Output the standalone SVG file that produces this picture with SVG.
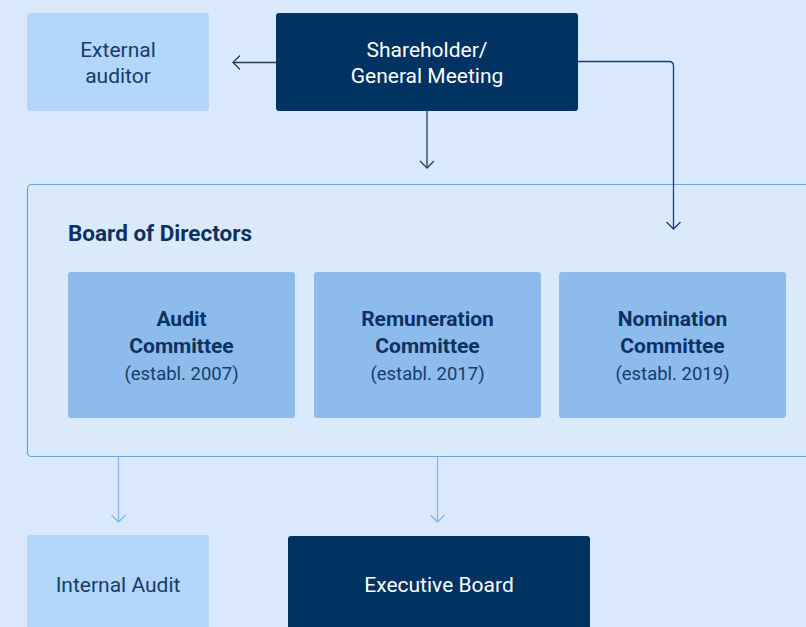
<svg xmlns="http://www.w3.org/2000/svg" width="806" height="627" viewBox="0 0 806 627">
<defs>
<style>
text{font-family:Roboto,"Liberation Sans",sans-serif;text-anchor:middle}
.lt{fill:#b3d6fa}
.dk{fill:#003262}
.cm{fill:#8dbbec}
.tl{font-size:21px;fill:#173c6a}
.tw{font-size:21px;fill:#ffffff}
.tb{font-size:21px;font-weight:bold;fill:#0b3262}
.ts{font-size:18.5px;fill:#173c6a}
.cd{fill:none;stroke:#1d3f6b;stroke-width:1.3}
.cl{fill:none;stroke:#84b6ec;stroke-width:1.3}
</style>
<marker id="ad" viewBox="0 0 16 16" refX="14" refY="8" markerWidth="16" markerHeight="16" markerUnits="userSpaceOnUse" orient="auto">
<path d="M7 1 L14 8 L7 15" fill="none" stroke="#1d3f6b" stroke-width="1.3"/>
</marker>
<marker id="al" viewBox="0 0 16 16" refX="14" refY="8" markerWidth="16" markerHeight="16" markerUnits="userSpaceOnUse" orient="auto">
<path d="M7 1 L14 8 L7 15" fill="none" stroke="#84b6ec" stroke-width="1.3"/>
</marker>
</defs>
<rect width="806" height="627" fill="#d9e9fb"/>
<g id="board">
<rect x="27.5" y="184.5" width="800" height="272" rx="4" fill="#dbeafb" stroke="#64a3e8" stroke-width="1.2"/>
<text x="68" y="241" style="text-anchor:start;font-size:22.5px;font-weight:bold;fill:#0b3262">Board of Directors</text>
</g>
<g id="connectors">
<path class="cd" d="M276 62.5 H233" marker-end="url(#ad)"/>
<path class="cd" d="M427 111 V168" marker-end="url(#ad)"/>
<path class="cd" d="M578 61.5 H669 Q673.5 61.5 673.5 66 V229" marker-end="url(#ad)"/>
<path class="cl" d="M118.5 457 V522" marker-end="url(#al)"/>
<path class="cl" d="M437.5 457 V522" marker-end="url(#al)"/>
</g>
<g id="external-auditor">
<rect class="lt" x="27" y="13" width="182" height="98" rx="3"/>
<text class="tl" x="118" y="57">External</text>
<text class="tl" x="118" y="83">auditor</text>
</g>
<g id="shareholder">
<rect class="dk" x="276" y="13" width="302" height="98" rx="3"/>
<text class="tw" x="427" y="57">Shareholder/</text>
<text class="tw" x="427" y="83">General Meeting</text>
</g>
<g id="audit-committee">
<rect class="cm" x="68" y="272" width="227" height="146" rx="3"/>
<text class="tb" x="181.5" y="326">Audit</text>
<text class="tb" x="181.5" y="353">Committee</text>
<text class="ts" x="181.5" y="380">(establ. 2007)</text>
</g>
<g id="remuneration-committee">
<rect class="cm" x="314" y="272" width="227" height="146" rx="3"/>
<text class="tb" x="427.5" y="326">Remuneration</text>
<text class="tb" x="427.5" y="353">Committee</text>
<text class="ts" x="427.5" y="380">(establ. 2017)</text>
</g>
<g id="nomination-committee">
<rect class="cm" x="559" y="272" width="227" height="146" rx="3"/>
<text class="tb" x="672.5" y="326">Nomination</text>
<text class="tb" x="672.5" y="353">Committee</text>
<text class="ts" x="672.5" y="380">(establ. 2019)</text>
</g>
<g id="internal-audit">
<rect class="lt" x="27" y="535" width="182" height="110" rx="3"/>
<text class="tl" x="118" y="592">Internal Audit</text>
</g>
<g id="executive-board">
<rect class="dk" x="288" y="536" width="302" height="110" rx="3"/>
<text class="tw" x="439" y="592">Executive Board</text>
</g>
</svg>
